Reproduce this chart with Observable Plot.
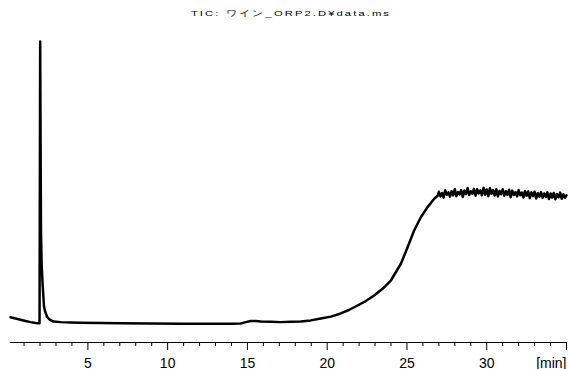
<!DOCTYPE html>
<html>
<head>
<meta charset="utf-8">
<script src="https://cdn.jsdelivr.net/npm/d3@7"></script>
<script src="https://cdn.jsdelivr.net/npm/@observablehq/plot@0.6"></script>
<style>
  html, body { margin: 0; padding: 0; background: #fff; }
  #wrap { position: relative; width: 568px; height: 369px; overflow: hidden; }
  #title {
    position: absolute; left: 291px; top: 10px;
    font-family: "Liberation Sans", Arial, sans-serif; font-size: 8px; line-height: 8px;
    letter-spacing: 1.5px; white-space: nowrap; color: #000;
    transform: translateX(-50%) scaleX(1.4); transform-origin: center;
  }
  svg { display: block; }
</style>
</head>
<body>
<div id="wrap">
  <div id="title">TIC: ワイン_ORP2.D¥data.ms</div>
  <div id="chart"></div>
</div>
<script>
const axisUnit = "[min]";
const labelTicks = [5, 10, 15, 20, 25, 30];
const majorTicks = [5, 10, 15, 20, 25, 30, 35];
const minorTicks = [1, 2, 3, 4, 6, 7, 8, 9, 11, 12, 13, 14, 16, 17, 18, 19, 21, 22, 23, 24, 26, 27, 28, 29, 31, 32, 33, 34];
const xDomain = [0.15, 35];
const yDomain = [-4.15, 100];

// retention time (min) and relative TIC intensity
const times = [
  0.15, 0.46, 0.78, 1.09, 1.41, 1.72, 1.94, 1.97, 2.01, 2.06, 2.10, 2.16, 2.25, 2.32, 2.45, 2.60, 2.85,
  3.29, 3.91, 4.54, 5.80, 7.05, 8.93, 10.82, 12.07, 13.95, 14.58, 14.89, 15.21, 15.52, 15.83, 16.46,
  17.09, 17.72, 18.34, 18.97, 19.60, 20.23, 20.85, 21.36, 21.90, 22.42, 22.94, 23.49, 23.99, 24.62,
  25.04, 25.45, 25.87, 26.29, 26.71, 26.94,
  27.0, 27.1, 27.2, 27.3, 27.4, 27.5, 27.6, 27.7, 27.8, 27.9,
  28.0, 28.1, 28.2, 28.3, 28.4, 28.5, 28.6, 28.7, 28.8, 28.9,
  29.0, 29.1, 29.2, 29.3, 29.4, 29.5, 29.6, 29.7, 29.8, 29.9,
  30.0, 30.1, 30.2, 30.3, 30.4, 30.5, 30.6, 30.7, 30.8, 30.9,
  31.0, 31.1, 31.2, 31.3, 31.4, 31.5, 31.6, 31.7, 31.8, 31.9,
  32.0, 32.1, 32.2, 32.3, 32.4, 32.5, 32.6, 32.7, 32.8, 32.9,
  33.0, 33.1, 33.2, 33.3, 33.4, 33.5, 33.6, 33.7, 33.8, 33.9,
  34.0, 34.1, 34.2, 34.3, 34.4, 34.5, 34.6, 34.7, 34.8, 34.9, 35.0
];
const tic = [
  4.6, 4.15, 3.7, 3.3, 2.9, 2.6, 2.5, 2.5, 100, 34.6, 23.2, 16.3, 8.3, 6.6, 4.6, 3.8, 3.1,
  2.9, 2.8, 2.7, 2.6, 2.5, 2.4, 2.35, 2.3, 2.3, 2.4, 2.9, 3.3, 3.3, 3.1, 3.0,
  2.9, 3.0, 3.1, 3.5, 4.15, 4.8, 5.9, 7.1, 8.65, 10.2, 12.1, 14.5, 17.3, 23.1,
  28.8, 34.6, 39.2, 42.7, 45.6, 46.7,
  48.0, 46.4, 47.6, 46.0, 48.5, 46.9, 47.8, 46.3, 48.2, 46.8,
  48.9, 46.5, 47.9, 47.1, 48.6, 46.2, 48.4, 47.2, 49.3, 46.9,
  48.2, 47.3, 49.0, 46.6, 48.9, 47.4, 48.5, 46.8, 49.4, 47.0,
  48.8, 46.5, 49.2, 47.3, 48.6, 46.7, 48.9, 46.4, 48.3, 47.2,
  48.9, 46.6, 48.2, 46.9, 48.7, 46.1, 48.4, 46.9, 47.9, 46.4,
  48.6, 46.8, 47.7, 46.0, 48.3, 46.6, 48.1, 45.8, 47.8, 46.5,
  48.0, 45.7, 47.5, 46.3, 47.9, 45.9, 47.4, 46.2, 47.8, 45.5,
  47.4, 46.0, 47.6, 45.4, 47.2, 46.1, 47.7, 45.6, 47.1, 45.9, 46.8
];

const data = times.map((t, i) => ({t, v: tic[i]}));

const chart = Plot.plot({
  width: 568,
  height: 369,
  marginLeft: 10,
  marginRight: 2,
  marginTop: 41,
  marginBottom: 27,
  style: {fontFamily: "'Liberation Sans', Arial, sans-serif", fontSize: "14px", color: "#000", background: "#fff"},
  x: {domain: xDomain, axis: null},
  y: {domain: yDomain, axis: null},
  marks: [
    Plot.ruleY([yDomain[0]], {stroke: "#000", strokeWidth: 1}),
    Plot.ruleX(minorTicks, {x: d => d, y1: yDomain[0], y2: yDomain[0], insetBottom: -4, stroke: "#000"}),
    Plot.ruleX(majorTicks, {x: d => d, y1: yDomain[0], y2: yDomain[0], insetBottom: -8, stroke: "#000"}),
    Plot.text(labelTicks, {x: d => d, text: d => String(d), frameAnchor: "bottom",
      lineAnchor: "bottom", dy: 25, fontSize: 14, fill: "#000"}),
    Plot.text([axisUnit], {frameAnchor: "bottom-right", text: d => d, textAnchor: "end",
      lineAnchor: "bottom", dy: 25, fontSize: 14, fill: "#000"}),
    Plot.line(data, {x: "t", y: "v", stroke: "#000", strokeWidth: 2.5, strokeLinejoin: "round"})
  ]
});
document.getElementById("chart").appendChild(chart);
</script>
</body>
</html>
